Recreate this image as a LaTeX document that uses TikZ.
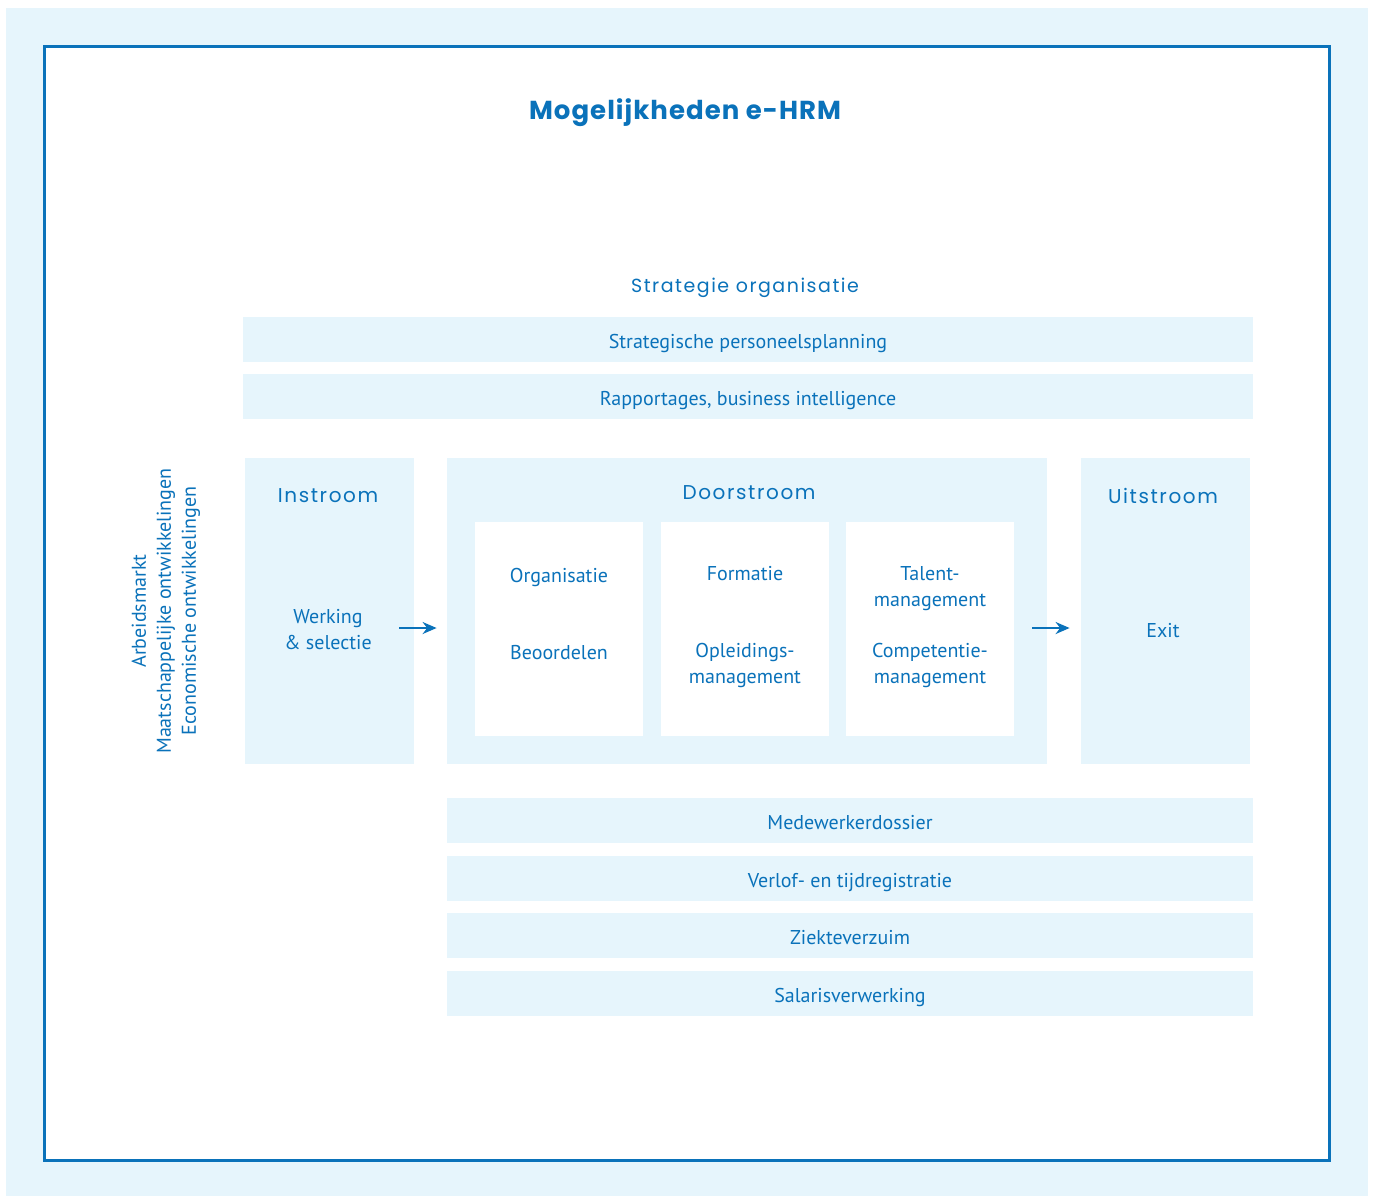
\documentclass[tikz,border=0pt]{standalone}
\usepackage{fontspec}
\setmainfont{PT Sans}
\newfontfamily\headfont[LetterSpace=8]{Poppins}
\newfontfamily\titlefont[LetterSpace=4]{Poppins}
\usetikzlibrary{arrows.meta}
\definecolor{hrmblue}{RGB}{10,114,186}
\definecolor{hrmlight}{RGB}{230,245,252}

\begin{document}
\begin{tikzpicture}[x=0.5pt,y=-0.5pt,
  every node/.style={text=hrmblue,inner sep=0pt},
  txt/.style={font=\fontsize{10}{13}\selectfont,align=center},
  head/.style={font=\headfont\fontsize{10}{12}\selectfont},
  bar/.style={fill=hrmlight,minimum height=22.5pt,txt,text height=9.5pt,text depth=0.3pt},
  column/.style={fill=hrmlight,minimum width=84.5pt,minimum height=153pt},
  card/.style={fill=white,minimum width=84pt,minimum height=107pt},
  arr/.style={-{Stealth[length=7pt,width=6pt]},line width=1pt,draw=hrmblue}]
\useasboundingbox (0,0) rectangle (1375,1196);
\fill[hrmlight] (6,8) rectangle (1368,1196);
\draw[hrmblue,line width=1.5pt,fill=white] (44.5,46.5) rectangle (1329.5,1160.5);

\node[font=\titlefont\bfseries\fontsize{13}{15}\selectfont] (title) at (685,113) {Mogelijkheden e-HRM};
\node[head,font=\headfont\fontsize{9.5}{12}\selectfont] (strat) at (745,288) {Strategie organisatie};

\node[bar,minimum width=505pt] (spp) at (748,339.5) {Strategische personeelsplanning};
\node[bar,minimum width=505pt] (rbi) at (748,396.5) {Rapportages, business intelligence};

\node[txt,rotate=90,font=\fontsize{10}{12.5}\selectfont] (env) at (166,611)
  {Arbeidsmarkt\\Maatschappelijke ontwikkelingen\\Economische ontwikkelingen};

\node[column] (in) at (329.5,611) {};
\node[column,minimum width=300pt] (door) at (747,611) {};
\node[column] (uit) at (1165.5,611) {};

\node[head] (inT) at (328,496) {Instroom};
\node[head] (doorT) at (749,493) {Doorstroom};
\node[head] (uitT) at (1163,496) {Uitstroom};

\node[txt] (werv) at (328,630) {Werking\\\& selectie};
\node[txt] (exit) at (1163,631) {Exit};

\node[card] (c1) at (559,629) {};
\node[card] (c2) at (745,629) {};
\node[card] (c3) at (930,629) {};

\node[txt] (org) at (559,577) {Organisatie};
\node[txt] (beo) at (559,653) {Beoordelen};
\node[txt] (form) at (745,574) {Formatie};
\node[txt] (opl) at (745,665) {Opleidings-\\management};
\node[txt] (tal) at (930,589) {Talent-\\management};
\node[txt] (comp) at (930,665) {Competentie-\\management};

\draw[arr] ([shift={(-15,17)}]in.east) -- ([shift={(-10,17)}]door.west);
\draw[arr] ([shift={(-15,17)}]door.east) -- ([shift={(-11,17)}]uit.west);

\node[bar,minimum width=403pt] (dos) at (850,820.5) {Medewerkerdossier};
\node[bar,minimum width=403pt] (verl) at (850,878.5) {Verlof- en tijdregistratie};
\node[bar,minimum width=403pt] (ziek) at (850,935.5) {Ziekteverzuim};
\node[bar,minimum width=403pt] (sal) at (850,993.5) {Salarisverwerking};
\end{tikzpicture}
\end{document}
